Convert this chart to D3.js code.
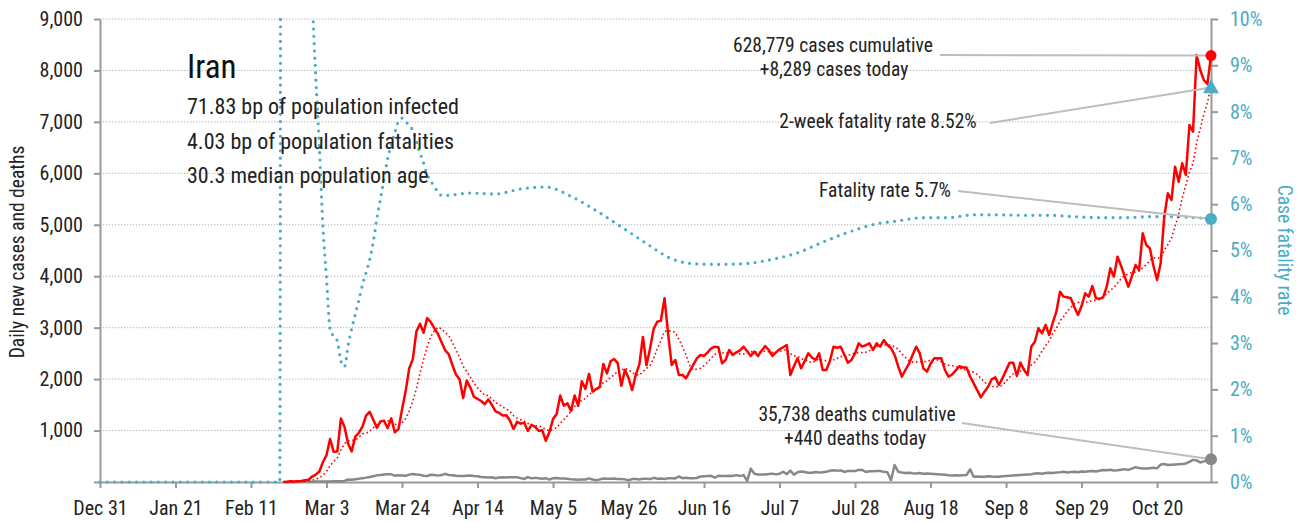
<!DOCTYPE html>
<html>
<head>
<meta charset="utf-8">
<script src="https://cdn.jsdelivr.net/npm/d3@7"></script>
<style>
  html, body { margin: 0; padding: 0; background: #fff; }
  svg { display: block; font-family: "Roboto Condensed", "Liberation Sans Narrow", sans-serif; }
</style>
</head>
<body>
<svg id="chart" width="1302" height="522"></svg>
<script>
// daily series start on this date (one value per day)
const firstDay = '2020-02-20';

const dailyCases = [
    2, 3, 13, 10, 15, 18, 34, 44, 106, 143,
    205, 385, 523, 835, 586, 591, 1234, 1076, 743, 595,
    881, 958, 1075, 1289, 1365, 1209, 1053, 1178, 1192, 1046,
    1237, 966, 1028, 1411, 1762, 2206, 2389, 2926, 3076, 2901,
    3186, 3110, 2988, 2875, 2715, 2560, 2483, 2274, 2089, 1997,
    1634, 1972, 1837, 1657, 1617, 1574, 1512, 1606, 1499, 1374,
    1343, 1294, 1297, 1194, 1030, 1168, 1134, 1153, 991, 1112,
    1073, 993, 1006, 802, 976, 1223, 1323, 1680, 1485, 1529,
    1383, 1683, 1481, 1958, 1808, 2102, 1757, 1806, 1849, 2294,
    2111, 2346, 2392, 2311, 1869, 2180, 2023, 1787, 2080, 2282,
    2819, 2269, 2600, 2979, 3117, 3134, 3574, 2886, 2275, 2372,
    2080, 2080, 2016, 2150, 2275, 2404, 2469, 2450, 2520, 2599,
    2630, 2620, 2307, 2372, 2566, 2469, 2520, 2560, 2630, 2540,
    2450, 2534, 2450, 2550, 2643, 2566, 2450, 2520, 2580, 2620,
    2663, 2080, 2250, 2404, 2210, 2350, 2501, 2420, 2372, 2501,
    2177, 2177, 2350, 2630, 2610, 2630, 2480, 2320, 2371, 2500,
    2696, 2630, 2660, 2696, 2566, 2696, 2630, 2760, 2663, 2600,
    2469, 2250, 2048, 2177, 2300, 2469, 2630, 2501, 2210, 2145,
    2300, 2404, 2404, 2404, 2177, 2048, 2090, 2170, 2250, 2225,
    2225, 2050, 1918, 1780, 1646, 1756, 1850, 1996, 2035, 1886,
    2015, 2170, 2320, 2320, 2061, 2320, 2177, 2080, 2630, 2727,
    2988, 2890, 3052, 2857, 3100, 3311, 3700, 3603, 3590, 3571,
    3400, 3247, 3420, 3668, 3603, 3810, 3571, 3560, 3590, 3797,
    4154, 3992, 4380, 4200, 3992, 3797, 4000, 4218, 4120, 4834,
    4607, 4542, 4200, 3927, 4251, 5157, 5612, 5482, 6130, 5838,
    6195, 5968, 6940, 6810, 8301, 8009, 7815, 7737, 8289
];

const dailyDeaths = [
    2, 0, 2, 1, 3, 4, 4, 3, 7, 8,
    9, 11, 12, 11, 15, 15, 17, 21, 49, 43,
    54, 63, 75, 85, 97, 113, 129, 135, 147, 149,
    149, 123, 129, 127, 122, 143, 157, 144, 139, 123,
    117, 141, 138, 124, 134, 158, 136, 133, 121, 117,
    117, 122, 125, 117, 111, 98, 94, 89, 92, 73,
    87, 91, 88, 94, 90, 93, 76, 60, 96, 71,
    80, 71, 63, 74, 47, 74, 78, 68, 66, 65,
    51, 48, 45, 48, 50, 71, 48, 35, 51, 69,
    65, 62, 66, 56, 58, 51, 34, 57, 56, 50,
    63, 63, 57, 81, 64, 70, 59, 72, 75, 70,
    107, 74, 81, 71, 75, 78, 107, 113, 115, 120,
    87, 120, 116, 119, 121, 119, 133, 115, 134, 20,
    260, 162, 144, 147, 148, 154, 163, 148, 160, 200,
    153, 221, 142, 188, 203, 194, 179, 179, 195, 183,
    188, 199, 219, 229, 221, 226, 195, 216, 212, 215,
    235, 235, 195, 208, 208, 215, 212, 197, 189, 35,
    330, 200, 185, 175, 180, 170, 165, 175, 160, 164,
    160, 155, 150, 145, 140, 130, 125, 130, 128, 132,
    136, 247, 103, 105, 100, 103, 110, 105, 103, 100,
    110, 115, 120, 125, 130, 135, 140, 145, 150, 165,
    170, 160, 175, 180, 175, 185, 190, 200, 185, 195,
    200, 190, 205, 200, 210, 215, 205, 220, 235, 230,
    240, 225, 230, 240, 250, 235, 260, 290, 270, 260,
    262, 268, 275, 265, 340, 350, 330, 335, 340, 345,
    350, 360, 390, 430, 420, 380, 400, 420, 440
];

// cumulative case fatality rate (%)
const cfrDates = [
    '2019-12-31', '2020-02-19', '2020-02-20', '2020-02-21', '2020-02-22',
    '2020-02-23', '2020-02-24', '2020-02-25', '2020-02-26', '2020-02-27',
    '2020-02-28', '2020-02-29', '2020-03-01', '2020-03-02', '2020-03-03',
    '2020-03-04', '2020-03-05', '2020-03-06', '2020-03-07', '2020-03-08',
    '2020-03-09', '2020-03-10', '2020-03-11', '2020-03-12', '2020-03-13',
    '2020-03-14', '2020-03-15', '2020-03-16', '2020-03-17', '2020-03-18',
    '2020-03-19', '2020-03-20', '2020-03-21', '2020-03-22', '2020-03-23',
    '2020-03-24', '2020-03-25', '2020-03-26', '2020-03-27', '2020-03-28',
    '2020-03-29', '2020-03-30', '2020-03-31', '2020-04-01', '2020-04-02',
    '2020-04-03', '2020-04-04', '2020-04-05', '2020-04-12', '2020-04-19',
    '2020-04-26', '2020-05-03', '2020-05-10', '2020-05-17', '2020-05-24',
    '2020-05-31', '2020-06-07', '2020-06-14', '2020-06-21', '2020-06-28',
    '2020-07-05', '2020-07-12', '2020-07-19', '2020-07-26', '2020-08-02',
    '2020-08-09', '2020-08-16', '2020-08-23', '2020-08-30', '2020-09-06',
    '2020-09-13', '2020-09-20', '2020-09-27', '2020-10-04', '2020-10-11',
    '2020-10-18', '2020-10-25', '2020-11-01', '2020-11-04'
];
const cfrValues = [
    0, 0, 100, 40, 22.2,
    17.9, 18.6, 19.7, 16.8, 13.7,
    10.6, 8.76, 7.25, 5.52, 4.40,
    3.30, 3.15, 3.05, 2.61, 2.49,
    2.95, 3.31, 3.62, 3.93, 4.26,
    4.52, 4.80, 5.19, 5.69, 6.11,
    6.54, 6.98, 7.29, 7.55, 7.79,
    7.86, 7.79, 7.69, 7.60, 7.35,
    7.11, 6.89, 6.64, 6.50, 6.38,
    6.26, 6.19, 6.19, 6.24, 6.22,
    6.33, 6.37, 6.17, 5.86, 5.51,
    5.15, 4.82, 4.71, 4.70, 4.72,
    4.81, 4.95, 5.18, 5.39, 5.56,
    5.64, 5.71, 5.71, 5.77, 5.77,
    5.76, 5.76, 5.73, 5.71, 5.71,
    5.73, 5.73, 5.70, 5.68
];

const twoWeekRate = 8.52;

const leftTicks = [0, 1000, 2000, 3000, 4000, 5000, 6000, 7000, 8000, 9000];
const rightTicks = [0, 1, 2, 3, 4, 5, 6, 7, 8, 9, 10];

const titleLines = [
    '71.83 bp of population infected',
    '4.03 bp of population fatalities',
    '30.3 median population age'
];
const casesNote = ['628,779 cases cumulative', '+8,289 cases today'];
const deathsNote = ['35,738 deaths cumulative', '+440 deaths today'];

(function () {
    const RED = '#ff0000', CYAN = '#4bacc6', GREY = '#888888', TEXT = '#222';

    const parse = d3.utcParse('%Y-%m-%d');
    const start = parse(firstDay);
    const cases = dailyCases.map((v, i) => ({ date: d3.utcDay.offset(start, i), v }));
    const deaths = dailyDeaths.map((v, i) => ({ date: d3.utcDay.offset(start, i), v }));
    // trailing 7-day mean of the daily cases
    const casesAvg = cases.map((d, i) => ({
        date: d.date,
        v: d3.mean(dailyCases.slice(Math.max(0, i - 6), i + 1))
    }));
    const cfr = cfrDates.map((d, i) => ({ date: parse(d), v: cfrValues[i] }));

    const pLeft = 100, pRight = 1211, pTop = 19, pBottom = 482;
    const dayZero = parse('2019-12-31');
    const lastDay = cases[cases.length - 1].date;

    const x = d3.scaleUtc().domain([dayZero, lastDay]).range([pLeft, pRight]);
    const yL = d3.scaleLinear().domain([0, 9000]).range([pBottom, pTop]);
    const yR = d3.scaleLinear().domain([0, 10]).range([pBottom, pTop]);

    const svg = d3.select('#chart');

    svg.append('defs').append('clipPath').attr('id', 'plot')
        .append('rect')
        .attr('x', pLeft - 2).attr('y', pTop - 1)
        .attr('width', pRight - pLeft + 4).attr('height', pBottom - pTop + 6);

    // dotted grid
    svg.append('g').selectAll('line')
        .data(leftTicks.filter(d => d > 0))
        .join('line')
        .attr('x1', pLeft).attr('x2', pRight)
        .attr('y1', d => yL(d)).attr('y2', d => yL(d))
        .attr('stroke', '#b5b5b5')
        .attr('stroke-width', 1)
        .attr('stroke-dasharray', '1.3,1.7');

    // axes
    const xTicks = d3.utcDay.range(dayZero, d3.utcDay.offset(lastDay, 1), 21);
    const gx = svg.append('g').attr('transform', `translate(0,${pBottom})`)
        .call(d3.axisBottom(x).tickValues(xTicks).tickFormat(d3.utcFormat('%b %-d')).tickSize(6).tickSizeOuter(0));
    gx.selectAll('text').attr('y', 33).attr('dy', 0);

    const gl = svg.append('g').attr('transform', `translate(${pLeft},0)`)
        .call(d3.axisLeft(yL).tickValues(leftTicks).tickSize(6).tickPadding(11).tickSizeOuter(0)
            .tickFormat(d => d === 0 ? '' : d3.format(',')(d)));

    const gr = svg.append('g').attr('transform', `translate(${pRight},0)`)
        .call(d3.axisRight(yR).tickValues(rightTicks).tickSize(7).tickPadding(12).tickSizeOuter(0)
            .tickFormat(d => d + '%'));

    [gx, gl, gr].forEach(g => {
        g.attr('font-family', null);
        g.select('.domain').attr('stroke', '#999').attr('stroke-width', 2);
        g.selectAll('.tick line').attr('stroke', '#999').attr('stroke-width', 2);
        g.selectAll('text').attr('font-size', 20).attr('fill', TEXT);
    });
    gr.selectAll('text').attr('fill', CYAN);

    // axis titles
    svg.append('text')
        .attr('transform', 'translate(24,252) rotate(-90)')
        .attr('text-anchor', 'middle')
        .attr('font-size', 19.5).attr('fill', TEXT)
        .text('Daily new cases and deaths');

    svg.append('text')
        .attr('transform', 'translate(1278,250) rotate(90)')
        .attr('text-anchor', 'middle')
        .attr('font-size', 19.5).attr('fill', CYAN)
        .text('Case fatality rate');

    // series
    const plot = svg.append('g').attr('clip-path', 'url(#plot)');

    plot.append('path')
        .datum(cfr)
        .attr('fill', 'none')
        .attr('stroke', CYAN)
        .attr('stroke-width', 3.2)
        .attr('stroke-linecap', 'round')
        .attr('stroke-dasharray', '0,7.3')
        .attr('d', d3.line().x(d => x(d.date)).y(d => yR(d.v)).curve(d3.curveMonotoneX));

    const lineL = d3.line().x(d => x(d.date)).y(d => yL(d.v));

    plot.append('path')
        .datum(deaths)
        .attr('fill', 'none')
        .attr('stroke', GREY)
        .attr('stroke-width', 2.5)
        .attr('stroke-linejoin', 'round')
        .attr('d', lineL);

    plot.append('path')
        .datum(casesAvg)
        .attr('fill', 'none')
        .attr('stroke', RED)
        .attr('stroke-width', 1.6)
        .attr('stroke-dasharray', '1.6,2.6')
        .attr('d', lineL);

    plot.append('path')
        .datum(cases)
        .attr('fill', 'none')
        .attr('stroke', RED)
        .attr('stroke-width', 2.5)
        .attr('stroke-linejoin', 'round')
        .attr('d', lineL);

    // title block
    svg.append('text')
        .attr('x', 187).attr('y', 78)
        .attr('font-size', 33).attr('fill', '#111')
        .text('Iran');

    svg.append('g').selectAll('text')
        .data(titleLines)
        .join('text')
        .attr('x', 187).attr('y', (d, i) => 114 + i * 34.5)
        .attr('font-size', 22).attr('fill', TEXT)
        .text(d => d);

    // annotations with leader lines
    const lastCases = cases[cases.length - 1];
    const lastDeaths = deaths[deaths.length - 1];
    const lastCfr = cfr[cfr.length - 1];
    const xEnd = x(lastDay);

    const leaders = [
        { x1: 940, y1: 55, x2: xEnd, y2: yL(lastCases.v) },
        { x1: 990, y1: 123, x2: xEnd, y2: yR(twoWeekRate) },
        { x1: 958, y1: 191, x2: xEnd, y2: yR(lastCfr.v) },
        { x1: 962, y1: 423, x2: xEnd, y2: yL(lastDeaths.v) }
    ];
    svg.append('g').selectAll('line')
        .data(leaders)
        .join('line')
        .attr('x1', d => d.x1).attr('y1', d => d.y1)
        .attr('x2', d => d.x2).attr('y2', d => d.y2)
        .attr('stroke', '#bdbdbd')
        .attr('stroke-width', 2);

    const notes = [
        { x: 833, y: 52, t: casesNote[0] },
        { x: 834, y: 76, t: casesNote[1] },
        { x: 878, y: 128, t: '2-week fatality rate ' + twoWeekRate + '%' },
        { x: 885, y: 197, t: 'Fatality rate 5.7%' },
        { x: 857, y: 421, t: deathsNote[0] },
        { x: 855, y: 445, t: deathsNote[1] }
    ];
    svg.append('g').selectAll('text')
        .data(notes)
        .join('text')
        .attr('x', d => d.x).attr('y', d => d.y)
        .attr('text-anchor', 'middle')
        .attr('font-size', 19.5).attr('fill', TEXT)
        .text(d => d.t);

    // end markers
    svg.append('circle').attr('cx', xEnd).attr('cy', yL(lastCases.v)).attr('r', 5.5).attr('fill', RED);
    svg.append('path')
        .attr('d', d3.symbol(d3.symbolTriangle).size(110)())
        .attr('transform', `translate(${xEnd},${yR(twoWeekRate) + 1})`)
        .attr('fill', CYAN);
    svg.append('circle').attr('cx', xEnd).attr('cy', yR(lastCfr.v)).attr('r', 6).attr('fill', CYAN);
    svg.append('circle').attr('cx', xEnd).attr('cy', yL(lastDeaths.v)).attr('r', 6).attr('fill', GREY);
})();
</script>
</body>
</html>
